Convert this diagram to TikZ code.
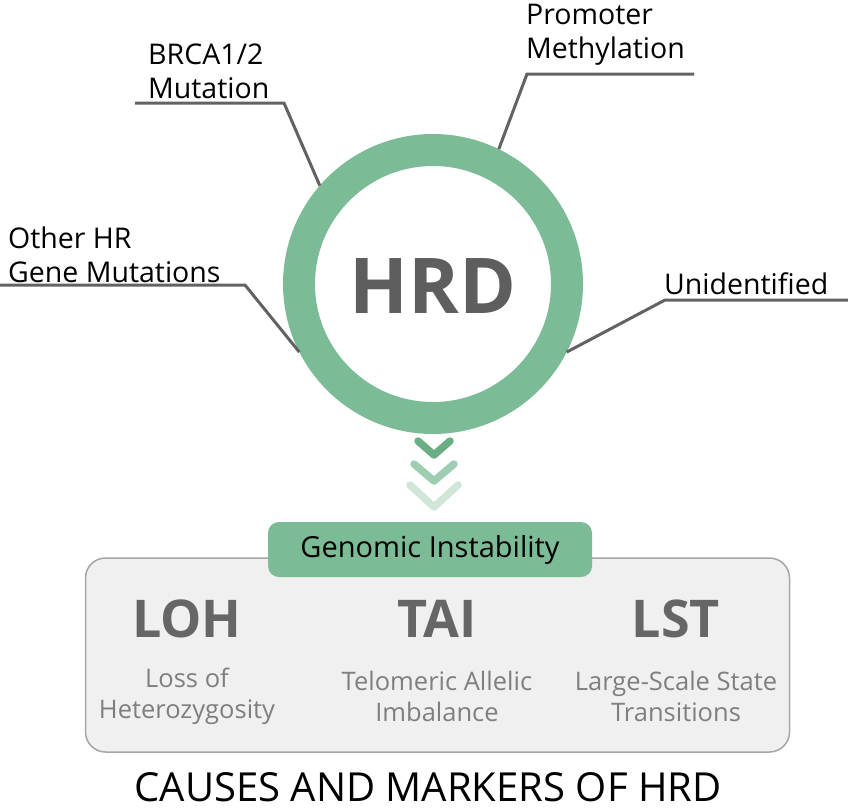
\documentclass[tikz,border=0pt]{standalone}
\usepackage{fontspec}
\setmainfont{Open Sans}
\definecolor{ringgreen}{HTML}{7BBB96}
\definecolor{chev1}{HTML}{6AAE86}
\definecolor{chev2}{HTML}{9ECDB1}
\definecolor{chev3}{HTML}{CFE6D9}
\definecolor{leadgray}{HTML}{626262}
\definecolor{bigtext}{HTML}{5E5E5E}
\definecolor{markgray}{HTML}{666666}
\definecolor{subgray}{HTML}{7F7F7F}
\definecolor{boxfill}{HTML}{F0F0F0}
\definecolor{boxline}{HTML}{A6A6A6}
\tikzset{
  leader/.style={draw=leadgray, line width=3pt},
  causelabel/.style={anchor=south west, inner sep=0pt, align=left, font=\fontsize{28.5}{34}\selectfont, text=black},
  chevron/.style={line width=#1, line cap=round, line join=round},
  marker/.style={font=\bfseries\fontsize{52}{52}\selectfont, text=markgray, inner sep=0pt},
  markersub/.style={font=\fontsize{25.5}{31}\selectfont, text=subgray, align=center, inner sep=0pt},
}
\begin{document}
\begin{tikzpicture}[x=1pt,y=-1pt]
\useasboundingbox (0,0) rectangle (848,811);
% ring
\node[circle, draw=ringgreen, line width=32pt, minimum size=268pt, inner sep=0pt] (ring) at (433,284) {};
\node[font=\bfseries\fontsize{77}{77}\selectfont, text=bigtext, inner sep=0pt] (hrd) at (433,286) {HRD};
% cause labels
\node[causelabel] (brca) at (148,99) {BRCA1/2\\Mutation};
\node[causelabel] (prom) at (526,66) {Promoter\\Methylation};
\node[causelabel] (other) at (8,283) {Other HR\\Gene Mutations};
\node[causelabel] (unid) at (664,294.5) {Unidentified};
% leaders
\coordinate (b1) at (135,103); \coordinate (b2) at (284,103);
\draw[leader] (b1) -- (b2) -- (ring.139);
\coordinate (p1) at (694,74); \coordinate (p2) at (527,74);
\draw[leader] (p1) -- (p2) -- (ring.64);
\coordinate (o1) at (0,285); \coordinate (o2) at (245,285);
\draw[leader] (o1) -- (o2) -- (ring.207);
\coordinate (u1) at (848,300); \coordinate (u2) at (665,300);
\draw[leader] (u1) -- (u2) -- (ring.333);
% chevrons
\draw[chevron=7.5pt, chev3] (410,485) -- (434,507) -- (458,485);
\draw[chevron=7.5pt, chev2] (414,464) -- (434,481) -- (454,464);
\draw[chevron=7.5pt, chev1] (418,441) -- (434,455) -- (450,441);
% markers box
\node[draw=boxline, fill=boxfill, line width=1.5pt, rounded corners=20pt, minimum width=704pt, minimum height=194pt, inner sep=0pt] (markers) at (437.5,655) {};
\node[fill=ringgreen, rounded corners=11pt, minimum width=324pt, minimum height=55pt, inner sep=0pt, font=\fontsize{29}{29}\selectfont, text=black] (gi) at (430,549.5) {Genomic Instability};
\node[marker] (loh) at (187,619) {LOH};
\node[marker] (tai) at (437,619) {TAI};
\node[marker] (lst) at (676,619) {LST};
\node[markersub] (lohs) at (187,696) {Loss of\\Heterozygosity};
\node[markersub] (tais) at (437,696) {Telomeric Allelic\\Imbalance};
\node[markersub] (lsts) at (676,696) {Large-Scale State\\Transitions};
% title
\node[font=\fontsize{40}{40}\selectfont, text=black, inner sep=0pt] (title) at (428,787) {CAUSES AND MARKERS OF HRD};
\end{tikzpicture}
\end{document}
